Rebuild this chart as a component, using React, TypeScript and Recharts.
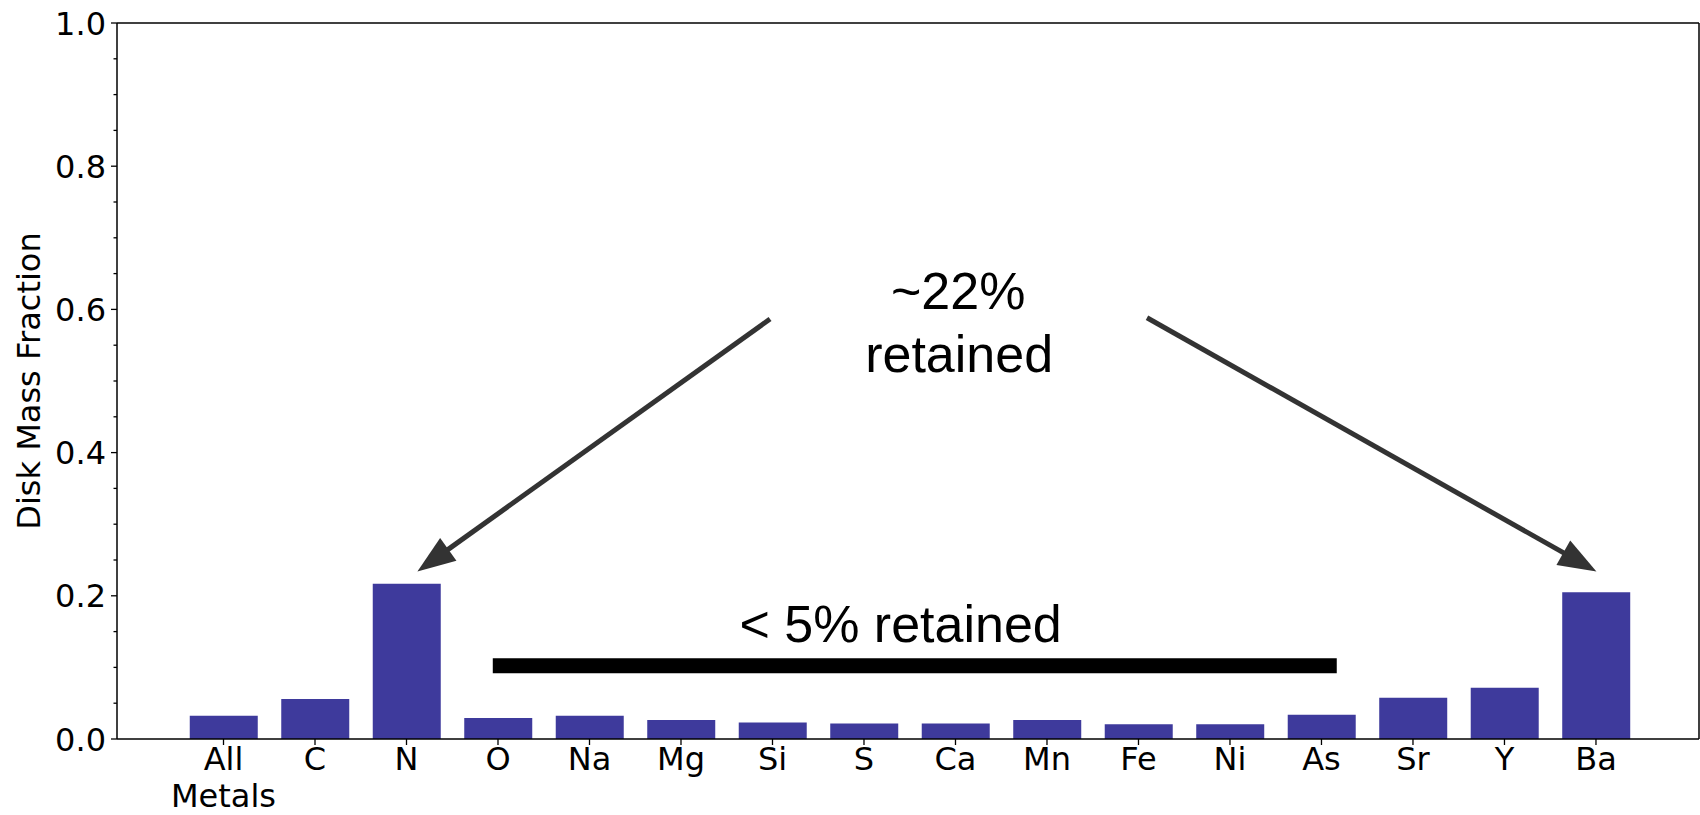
import {
  BarChart,
  Bar,
  XAxis,
  YAxis,
  ReferenceLine,
  ReferenceDot,
} from 'recharts';

const ELEMENTS = ['All\nMetals', 'C', 'N', 'O', 'Na', 'Mg', 'Si', 'S', 'Ca', 'Mn', 'Fe', 'Ni', 'As', 'Sr', 'Y', 'Ba'];
const DISK_FRACTION = [0.0325, 0.0558, 0.217, 0.0293, 0.0325, 0.0265, 0.0232, 0.0218, 0.0218, 0.0265, 0.0205, 0.0205, 0.034, 0.0577, 0.0716, 0.205];
const X_TICKS = [0, 1, 2, 3, 4, 5, 6, 7, 8, 9, 10, 11, 12, 13, 14, 15];
const Y_TICKS = [0, 0.05, 0.1, 0.15, 0.2, 0.25, 0.3, 0.35, 0.4, 0.45, 0.5, 0.55, 0.6, 0.65, 0.7, 0.75, 0.8, 0.85, 0.9, 0.95, 1.0];
const X_DOMAIN: [number, number] = [-1.164, 16.126];

// annotation anchors, in data units
const LEFT_ARROW = [{ x: 5.973, y: 0.5866 }, { x: 2.119, y: 0.2341 }];
const RIGHT_ARROW = [{ x: 10.093, y: 0.5884 }, { x: 15.005, y: 0.2341 }];
const LOW_BAR = [{ x: 2.943, y: 0.1022 }, { x: 12.167, y: 0.1022 }];

const rows = DISK_FRACTION.map((fraction, i) => ({ idx: X_TICKS[i], label: ELEMENTS[i], fraction }));

const AXIS_FONT = '"DejaVu Sans", sans-serif';
const NOTE_FONT = '"Liberation Sans", Arial, sans-serif';
const BAR_COLOR = '#3e3a9c';
const Y_TICK_SIZE = 6;
const Y_TICK_MARGIN = 5;

function ElementTick({ x, y, payload }: any) {
  const lines = ELEMENTS[payload.value].split('\n');
  return (
    <text x={x} y={y} textAnchor="middle" fontFamily={AXIS_FONT} fontSize={32} fill="#000">
      {lines.map((line, i) => (
        <tspan key={i} x={x} dy={i === 0 ? 21 : 37.3}>
          {line}
        </tspan>
      ))}
    </text>
  );
}

function FractionTick({ x, y, payload }: any) {
  const v = payload.value;
  const major = Math.abs(v * 5 - Math.round(v * 5)) < 1e-6;
  const ax = x + Y_TICK_SIZE + Y_TICK_MARGIN;
  return (
    <g>
      <line x1={ax - (major ? 6 : 3.5)} x2={ax} y1={y} y2={y} stroke="#000" strokeWidth={1.3} />
      {major && (
        <text x={x} y={y} dy="0.36em" textAnchor="end" fontFamily={AXIS_FONT} fontSize={32} fill="#000">
          {v.toFixed(1)}
        </text>
      )}
    </g>
  );
}

function YLabel({ viewBox }: any) {
  const cx = viewBox.x + 29;
  const cy = viewBox.y + viewBox.height / 2;
  return (
    <text
      x={cx}
      y={cy}
      transform={`rotate(-90 ${cx} ${cy})`}
      textAnchor="middle"
      dominantBaseline="central"
      fontFamily={AXIS_FONT}
      fontSize={32}
      fill="#000"
    >
      Disk Mass Fraction
    </text>
  );
}

// straight arrow from (x1,y1) with a filled head at (x2,y2)
function Arrow({ x1, y1, x2, y2 }: any) {
  const dx = x2 - x1;
  const dy = y2 - y1;
  const len = Math.hypot(dx, dy);
  const ux = dx / len;
  const uy = dy / len;
  const L = 38;
  const W = 14;
  const bx = x2 - ux * L;
  const by = y2 - uy * L;
  return (
    <g>
      <line x1={x1} y1={y1} x2={bx + ux * 4} y2={by + uy * 4} stroke="#333" strokeWidth={5} />
      <polygon
        points={`${x2},${y2} ${bx - uy * W},${by + ux * W} ${bx + uy * W},${by - ux * W}`}
        fill="#333"
      />
    </g>
  );
}

function note(text: string) {
  return ({ cx, cy }: any) => (
    <text x={cx} y={cy} textAnchor="middle" fontFamily={NOTE_FONT} fontSize={52} fill="#000">
      {text}
    </text>
  );
}

export default function App() {
  return (
    <div style={{ position: 'absolute', left: 0, top: 0, background: '#fff' }}>
      <BarChart width={1700} height={815} data={rows} margin={{ top: 23, right: 1, bottom: 1, left: 0 }}>
        <XAxis
          dataKey="idx"
          type="number"
          domain={X_DOMAIN}
          allowDataOverflow
          ticks={X_TICKS}
          interval={0}
          height={75}
          tick={<ElementTick />}
          tickSize={6}
          tickMargin={4}
          tickLine={{ stroke: '#000', strokeWidth: 1.3 }}
          axisLine={{ stroke: '#000', strokeWidth: 1.5 }}
        />
        <YAxis
          type="number"
          domain={[0, 1]}
          allowDataOverflow
          ticks={Y_TICKS}
          interval={0}
          width={117}
          tick={<FractionTick />}
          tickLine={false}
          tickSize={Y_TICK_SIZE}
          tickMargin={Y_TICK_MARGIN}
          axisLine={{ stroke: '#000', strokeWidth: 1.5 }}
          label={<YLabel />}
        />
        <ReferenceLine y={1} stroke="#000" strokeWidth={1.5} />
        <ReferenceLine x={X_DOMAIN[1]} stroke="#000" strokeWidth={1.5} />
        <Bar dataKey="fraction" fill={BAR_COLOR} barSize={68} isAnimationActive={false} />
        <ReferenceLine segment={LOW_BAR} stroke="#000" strokeWidth={15} />
        <ReferenceLine segment={LEFT_ARROW} shape={Arrow} />
        <ReferenceLine segment={RIGHT_ARROW} shape={Arrow} />
        <ReferenceDot x={8.03} y={0.6006} r={1} shape={note('~22%')} />
        <ReferenceDot x={8.04} y={0.5126} r={1} shape={note('retained')} />
        <ReferenceDot x={7.4} y={0.1355} r={1} shape={note('< 5% retained')} />
      </BarChart>
    </div>
  );
}
